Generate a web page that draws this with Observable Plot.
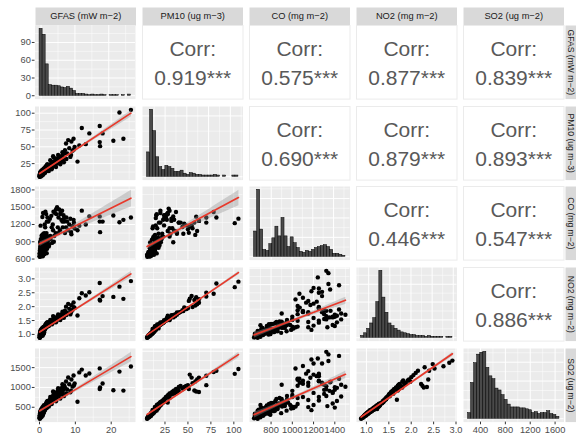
<!DOCTYPE html>
<html><head><meta charset="utf-8">
<script src="https://cdn.jsdelivr.net/npm/d3@7"></script>
<script src="https://cdn.jsdelivr.net/npm/@observablehq/plot@0.6"></script>
<style>
body{margin:0;background:#fff;}
#chart{position:relative;width:576px;height:437px;overflow:hidden;background:#fff;}
</style></head><body><div id="chart"></div>
<script>
// ---------- data ----------
const varNames = ["GFAS (mW m\u22122)", "PM10 (ug m\u22123)", "CO (mg m\u22122)", "NO2 (mg m\u22122)", "SO2 (ug m\u22122)"];

const gfas = [0.02,0.05,0.08,0.10,0.12,0.15,0.18,0.20,0.22,0.25,0.28,0.30,0.32,0.35,0.38,0.40,0.42,0.45,0.48,0.50,0.52,0.55,0.58,0.60,0.62,0.65,0.68,0.70,0.72,0.75,0.78,0.80,0.82,0.85,0.88,0.90,0.92,0.95,0.98,1.00,1.02,1.05,1.08,1.10,1.12,1.15,1.18,1.20,1.22,1.25,1.28,1.30,1.32,1.35,0.12,0.27,0.43,0.57,0.73,0.87,1.03,1.17,0.07,0.33,0.63,0.93,1.23,0.47,0.77,1.07,0.17,0.37,0.67,0.97,0.3,0.6,0.8,1.0,1.2,1.3,
 1.40,1.45,1.50,1.55,1.60,1.65,1.70,1.75,1.80,1.85,1.90,1.95,2.00,2.05,2.10,2.15,2.20,2.22,1.58,2.12,
 2.3,2.5,2.7,2.9,3.1,3.3,3.5,3.7,3.9,4.1,4.3,4.5,4.7,4.9,5.1,5.3,5.5,5.7,5.9,6.1,6.3,6.5,6.7,6.9,2.6,3.0,3.4,4.0,4.6,5.2,5.8,6.4,6.8,3.8,
 7.1,7.4,7.7,8.0,8.3,8.6,8.9,9.2,9.5,9.8,7.5,8.8,9.6,
 25.5,22.3,16.8,11.8,17.6,13.9,20.6,23.4,16.8,16.9,12.9,11.1,10.6];
const pm10 = [6.0,7.5,9.0,5.5,8.0,10.5,6.5,12.0,7.0,9.5,11.0,8.5,13.0,6.0,10.0,7.5,12.5,9.0,11.5,14.0,8.0,10.5,13.5,7.0,9.5,12.0,15.0,8.5,11.0,13.0,10.0,14.5,9.0,12.5,16.0,11.5,8.0,13.5,10.5,15.5,12.0,9.5,14.0,11.0,16.5,13.0,10.0,15.0,12.5,17.0,14.5,11.5,16.0,13.0,6.5,8.5,9.0,10.0,11.0,12.0,13.0,14.0,5.8,7.8,10.8,12.8,14.8,9.8,11.8,13.8,8.8,10.8,12.2,14.2,12.0,13.5,15.0,16.0,17.5,18.0,
 12.0,15.0,18.0,13.5,16.5,20.0,14.0,17.5,21.0,15.5,19.0,22.0,16.0,18.5,23.0,17.0,20.5,24.0,11.5,14.5,
 16.0,20.0,18.0,23.0,21.0,26.0,19.0,24.0,28.0,22.0,27.0,31.0,25.0,29.0,33.0,26.0,30.0,35.0,28.0,32.0,37.0,30.0,34.0,40.0,14.0,30.0,16.5,34.0,20.0,38.0,24.0,42.0,27.0,36.0,
 45,55,40,60,48,35,58,44,62,50,32,38,46,
 105,101,81,78,70,70,59,62,57,51,54,52,28];
const co = [648,691,742,674,708,776,657,819,725,683,759,793,861,666,734,700,844,648,717,904,683,751,810,657,708,776,878,691,742,827,674,929,725,793,861,691,648,759,836,895,708,674,785,742,946,819,691,853,725,912,802,683,870,751,700,648,776,657,793,708,674,776,640,683,759,810,708,827,861,929,895,946,989,1031,1180,1010,1330,1400,980,1050,
 720,1200,800,1000,880,1420,760,920,950,1380,840,1050,700,1250,1000,960,900,1320,1150,780,
 900,1250,850,1300,950,1350,880,1200,1420,1000,1400,1050,1380,1500,1150,1320,1460,1100,1400,1280,1440,1150,1360,1250,820,1000,1150,900,1460,1050,1380,1250,1300,1100,
 1050,1150,1250,1100,1200,1300,1030,1170,1280,1130,1320,1070,1230,
 1320,1240,1340,1440,1250,1340,1356,1280,1250,1067,1200,1180,1100];
const no2 = [0.90,0.95,1.00,0.88,0.97,1.05,0.92,1.10,0.96,1.02,1.08,0.99,1.15,0.93,1.04,0.98,1.12,1.00,1.06,1.18,0.95,1.03,1.14,0.94,1.01,1.09,1.20,0.97,1.05,1.13,1.00,1.22,0.99,1.10,1.24,1.04,0.96,1.15,1.07,1.21,1.08,1.01,1.17,1.06,1.26,1.12,1.03,1.19,1.10,1.28,1.16,1.07,1.23,1.14,0.91,0.94,0.98,1.00,1.04,1.06,1.09,1.13,0.89,0.93,1.02,1.11,1.15,1.05,1.08,1.18,1.03,1.08,1.12,1.20,1.12,1.16,1.20,1.24,1.27,1.22,
 1.18,1.25,1.30,1.22,1.28,1.35,1.24,1.31,1.38,1.27,1.33,1.40,1.26,1.34,1.42,1.30,1.37,1.44,1.20,1.29,
 1.32,1.40,1.36,1.45,1.42,1.50,1.38,1.48,1.55,1.44,1.52,1.60,1.50,1.58,1.66,1.54,1.62,1.70,1.58,1.66,1.74,1.62,1.70,1.80,1.30,1.52,1.36,1.62,1.44,1.72,1.52,1.82,1.60,1.66,
 1.85,2.00,1.78,2.10,1.92,1.72,2.05,1.88,2.15,1.95,1.70,1.80,1.98,
 2.92,2.72,2.85,2.48,2.38,2.52,2.35,2.28,2.25,2.22,2.40,2.30,1.68];
const so2 = [230,260,300,210,280,340,250,380,270,320,360,290,420,240,330,300,400,310,350,450,280,340,410,260,320,380,470,300,350,420,330,480,310,390,500,360,290,430,370,490,400,340,450,380,530,420,360,470,410,550,460,390,510,440,240,270,310,290,340,350,370,400,220,250,330,390,430,360,400,460,320,370,410,450,380,420,460,430,480,500,
 420,480,520,450,500,560,470,540,590,510,560,620,480,570,640,530,600,660,440,500,
 560,640,600,700,660,760,620,720,820,680,780,860,740,840,920,790,880,960,830,900,1000,860,940,1050,520,760,580,880,650,980,720,1080,780,900,
 1000,1150,950,1250,1080,880,1200,1020,1300,1100,850,920,1050,
 1530,1400,1480,1450,1100,1350,930,920,960,1000,1300,1380,640];

// histogram counts on the diagonal (30 bins each), first bin edge and bin width
const gfasCounts = [113,103,53,18,17,17,16,14,13,15,12,8,3,3,3,2,1,2,1,1,2,1,0,1,1,1,0,1,0,2];
const pm10Counts = [40,110,75,32,16,11,18,16,13,8,8,10,5,3,6,5,3,3,2,2,2,2,3,2,0,2,0,0,2,2];
const coCounts   = [26,69,28,7,6,13,19,31,21,40,21,10,20,14,9,5,4,6,5,7,9,10,11,12,10,7,3,3,2,1];
const no2Counts  = [2,5,10,16,22,40,75,45,28,16,13,10,8,6,5,4,3,3,2,2,2,1,2,1,1,1,1,0,1,1];
const so2Counts  = [6,38,59,68,70,71,54,45,42,32,30,25,20,15,12,12,12,11,11,10,9,6,7,5,6,6,8,5,4,2];
const histStart = [-0.45, 4.3, 635, 0.82, 200];
const histWidth = [0.9, 3.5, 29.3, 0.072, 49];

// correlation labels (upper triangle)
const corrRow = [0,0,0,0,1,1,1,2,2,3];
const corrCol = [1,2,3,4,2,3,4,3,4,4];
const corrValue = ["0.919***","0.575***","0.877***","0.839***","0.690***","0.879***","0.893***","0.446***","0.547***","0.886***"];

// axis tick labels
const xTicks = [[0,10,20],[25,50,75,100],[800,1000,1200,1400],[1,1.5,2,2.5,3],[400,800,1200,1600]];
const yTicks = [[0,30,60,90],[25,50,75,100],[600,900,1200,1500,1800],[1,1.5,2,2.5,3],[500,1000,1500]];

// ---------- layout ----------
const chart = document.getElementById("chart");
const FONT = "'Liberation Sans', Arial, Helvetica, sans-serif";
const W = 100.5, H = 73.6, LEFT = 34.5, BOTTOM = 16;
const colX = i => 34.5 + i * 107.1;
const rowY = j => 25 + j * 80.7;
const RED = "#E8392B", BG = "#EBEBEB", AXC = "#4D4D4D";
const baseStyle = {fontFamily: FONT, background: "transparent", overflow: "visible"};
const cols = [gfas, pm10, co, no2, so2];
const hists = [gfasCounts, pm10Counts, coCounts, no2Counts, so2Counts];
const n = d3.min(cols, c => c.length);
const idx = d3.range(n);

function place(svg, left, top) {
  svg.style.position = "absolute";
  svg.style.left = left + "px";
  svg.style.top = top + "px";
  chart.appendChild(svg);
}
function expand([a, b], f = 0.05) { const d = (b - a) * f; return [a - d, b + d]; }
function inside(ts, d) { return ts.filter(t => t >= d[0] && t <= d[1]); }
function minors(ts, d) {
  if (ts.length < 2) return [];
  const s = ts[1] - ts[0], out = [];
  for (let t = ts[0] - s / 2; t <= d[1]; t += s) out.push(t);
  return inside(out, d);
}
function fmt(k) { return k === 3 ? d3.format(".1f") : d3.format("d"); }

function bandExtent(xs, ys) {
  const m = xs.length, mx = d3.mean(xs), my = d3.mean(ys);
  let sxx = 0, sxy = 0;
  for (let i = 0; i < m; i++) { sxx += (xs[i] - mx) ** 2; sxy += (xs[i] - mx) * (ys[i] - my); }
  const b = sxy / sxx, a = my - b * mx;
  let sse = 0;
  for (let i = 0; i < m; i++) sse += (ys[i] - a - b * xs[i]) ** 2;
  const s = Math.sqrt(sse / (m - 2)), t = 1.975, out = [];
  for (const x of d3.extent(xs)) {
    const yh = a + b * x, h = t * s * Math.sqrt(1 / m + (x - mx) ** 2 / sxx);
    out.push(yh - h, yh + h);
  }
  return out;
}

const xDomains = cols.map(c => expand(d3.extent(c.slice(0, n))));

function gridMarks(xd, yd, xt, yt) {
  const xs = inside(xt, xd), ys = inside(yt, yd);
  return [
    Plot.frame({fill: BG, stroke: "none"}),
    Plot.ruleX(minors(xt, xd), {x: d => d, stroke: "white", strokeWidth: 0.5}),
    Plot.ruleY(minors(yt, yd), {y: d => d, stroke: "white", strokeWidth: 0.5}),
    Plot.ruleX(xs, {x: d => d, stroke: "white", strokeWidth: 1}),
    Plot.ruleY(ys, {y: d => d, stroke: "white", strokeWidth: 1})
  ];
}
function axisMarks(ci, ri, xd, yd, xt, yt, yfmt) {
  const m = [];
  const common = {tickSize: 2.7, tickPadding: 1.5, fontSize: 9.3, fill: AXC, stroke: "#333333", label: null};
  if (ci === 0) m.push(Plot.axisY(inside(yt, yd), {...common, anchor: "left", tickFormat: yfmt}));
  if (ri === 4) m.push(Plot.axisX(inside(xt, xd), {...common, anchor: "bottom", tickFormat: fmt(ci)}));
  return m;
}

function scatterPanel(ci, ri) {
  const xs = cols[ci].slice(0, n), ys = cols[ri].slice(0, n);
  const xd = xDomains[ci];
  const yd = expand(d3.extent([...ys, ...bandExtent(xs, ys)]));
  const ml = ci === 0 ? LEFT : 0, mb = ri === 4 ? BOTTOM : 0;
  const yt = ci === 0 ? yTicks[ri] : d3.ticks(yd[0], yd[1], 4);
  const svg = Plot.plot({
    width: W + ml, height: H + mb,
    marginLeft: ml, marginBottom: mb, marginTop: 0, marginRight: 0,
    x: {domain: xd, axis: null}, y: {domain: yd, axis: null},
    style: baseStyle,
    marks: [
      ...gridMarks(xd, yd, xTicks[ci], yt),
      Plot.dot(idx, {x: i => xs[i], y: i => ys[i], r: 2.2, fill: "black", stroke: "none"}),
      Plot.linearRegressionY(idx, {x: i => xs[i], y: i => ys[i], stroke: RED, strokeWidth: 1.7, fill: "#999999", fillOpacity: 0.4}),
      ...axisMarks(ci, ri, xd, yd, xTicks[ci], yt, fmt(ri))
    ]
  });
  place(svg, colX(ci) - ml, rowY(ri));
}

function histPanel(k) {
  const counts = hists[k], x0 = histStart[k], w = histWidth[k];
  const bins = counts.map((c, i) => ({x1: x0 + i * w, x2: x0 + (i + 1) * w, c}));
  const xd = expand([x0, x0 + counts.length * w]);
  const M = d3.max(counts), yd = [-0.05 * M, 1.05 * M];
  const yt = k === 0 ? yTicks[0] : d3.ticks(0, M, 3);
  const ml = k === 0 ? LEFT : 0, mb = k === 4 ? BOTTOM : 0;
  const svg = Plot.plot({
    width: W + ml, height: H + mb,
    marginLeft: ml, marginBottom: mb, marginTop: 0, marginRight: 0,
    x: {domain: xd, axis: null}, y: {domain: yd, axis: null},
    style: baseStyle,
    marks: [
      ...gridMarks(xd, yd, xTicks[k], yt),
      Plot.rect(bins, {x1: d => d.x1, x2: d => d.x2, y1: () => 0, y2: d => d.c, fill: "#4A4A4A", stroke: "black", strokeWidth: 0.5}),
      ...axisMarks(k, k, xd, yd, xTicks[k], yt, d3.format("d"))
    ]
  });
  place(svg, colX(k) - ml, rowY(k));
}

function corrPanel(j) {
  const svg = Plot.plot({
    width: W, height: H, margin: 0, style: baseStyle,
    marks: [
      Plot.frame({fill: "white", stroke: BG}),
      Plot.text(["Corr:"], {text: d => d, frameAnchor: "middle", dy: -12.8, fontSize: 21, fill: "#595959"}),
      Plot.text([corrValue[j]], {text: d => d, frameAnchor: "middle", dy: 15.7, fontSize: 21, fill: "#595959"})
    ]
  });
  place(svg, colX(corrCol[j]), rowY(corrRow[j]));
}

function strip(label, w, h, rotate, fs) {
  return Plot.plot({
    width: w, height: h, margin: 0, style: baseStyle,
    marks: [
      Plot.frame({fill: "#D9D9D9", stroke: "none"}),
      Plot.text([label], {text: d => d, frameAnchor: "middle", fontSize: fs, fill: "#1A1A1A", rotate})
    ]
  });
}

// ---------- draw ----------
for (let k = 0; k < 5; k++) {
  place(strip(varNames[k], W, 18, 0, 9.3), colX(k), 7);
  place(strip(varNames[k], 11, H, 90, 8.6), 565, rowY(k));
  histPanel(k);
}
for (let ri = 1; ri < 5; ri++) for (let ci = 0; ci < ri; ci++) scatterPanel(ci, ri);
corrValue.forEach((_, j) => corrPanel(j));
</script></body></html>
